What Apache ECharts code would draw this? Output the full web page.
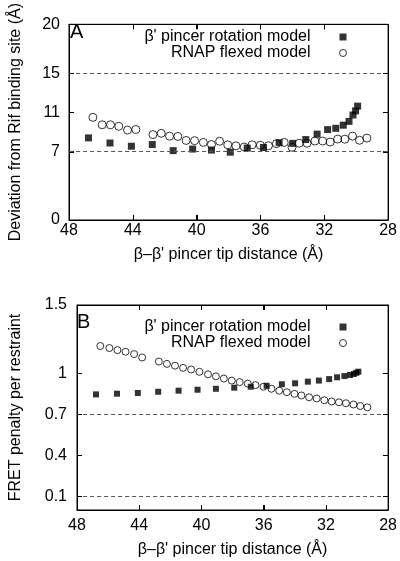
<!DOCTYPE html>
<html><head><meta charset="utf-8">
<script src="https://cdn.jsdelivr.net/npm/echarts@6/dist/echarts.min.js"></script>
<style>html,body{margin:0;padding:0;background:#fff}#c{width:400px;height:561px}</style>
</head><body><div id="c"></div>
<script>
// ---- data ----
const sqX = [46.78, 45.43, 44.09, 42.78, 41.47, 40.25, 39.07, 37.89, 36.83, 35.81, 34.83, 33.98, 33.16, 32.45, 31.79, 31.28, 30.81, 30.45, 30.20, 30.04, 29.91];
const sqA = [8.39, 7.87, 7.54, 7.71, 7.09, 7.25, 7.15, 6.93, 7.35, 7.41, 7.90, 7.83, 8.22, 8.78, 9.24, 9.37, 9.69, 10.08, 10.73, 11.15, 11.64];
const sqB = [0.846, 0.851, 0.856, 0.865, 0.873, 0.880, 0.887, 0.895, 0.902, 0.909, 0.920, 0.927, 0.939, 0.947, 0.958, 0.971, 0.980, 0.988, 0.995, 1.004, 1.012];
const ciX = [46.50, 45.92, 45.40, 44.88, 44.33, 43.81, 42.74, 42.22, 41.70, 41.18, 40.66, 40.13, 39.58, 39.07, 38.56, 38.05, 37.54, 37.02, 36.52, 36.01, 35.50, 35.00, 34.51, 34.02, 33.57, 33.08, 32.59, 32.10, 31.63, 31.16, 30.71, 30.23, 29.79, 29.33];
const ciA = [10.49, 9.73, 9.73, 9.58, 9.19, 9.25, 8.73, 8.86, 8.57, 8.54, 8.13, 8.11, 7.93, 7.71, 8.05, 7.68, 7.58, 7.46, 7.69, 7.64, 7.59, 7.80, 7.93, 7.43, 7.85, 7.85, 8.07, 8.07, 7.97, 8.27, 8.26, 8.57, 8.15, 8.37];
const ciB = [1.200, 1.185, 1.170, 1.158, 1.141, 1.116, 1.086, 1.069, 1.056, 1.040, 1.028, 1.011, 0.993, 0.978, 0.962, 0.947, 0.936, 0.925, 0.914, 0.902, 0.887, 0.873, 0.862, 0.850, 0.838, 0.825, 0.816, 0.803, 0.794, 0.788, 0.781, 0.772, 0.761, 0.751];
const ticksA = [0, 7, 11, 15, 20];
const ticksB = [0, 0.1, 0.4, 0.7, 1, 1.5];
const ticksX = [44, 40, 36, 32];
const dashA = [7, 15];
const dashB = [0.1, 0.7];
const nameSq = "β' pincer rotation model";
const nameCi = "RNAP flexed model";
const xTitle = "β–β' pincer tip distance (Å)";
const yTitleA = "Deviation from Rif binding site (Å)";
const yTitleB = "FRET penalty per restraint";

const FF = '"Liberation Sans", Arial, Helvetica, sans-serif';
const zip = (xs, ys) => xs.map((x, i) => [x, ys[i]]);
const chart = echarts.init(document.getElementById('c'));
const AL = () => ({show: true, onZero: false, lineStyle: {color: '#000', width: 1, opacity: 1}});
const TK = (cv) => {
  const t = {show: true, inside: true, length: 5, lineStyle: {color: '#000', width: 1, opacity: 1}};
  if (cv) t.customValues = cv;
  return t;
};

function xAxes(gi, gap, margin) {
  return [
    {gridIndex: gi, type: 'value', min: 28, max: 48, interval: 4, inverse: true, position: 'bottom',
     name: xTitle, nameLocation: 'middle', nameGap: gap,
     nameTextStyle: {fontSize: 16, color: '#000', fontFamily: FF},
     axisLine: AL(), axisTick: TK(),
     axisLabel: {fontSize: 16, color: '#000', fontFamily: FF, margin: margin},
     splitLine: {show: false}},
    {gridIndex: gi, type: 'value', min: 28, max: 48, interval: 4, inverse: true, position: 'top',
     axisLine: AL(), axisTick: TK(),
     axisLabel: {show: false}, splitLine: {show: false}}
  ];
}
function yAxes(gi, max, ticks, title, gap, labelExtra) {
  return [
    {gridIndex: gi, type: 'value', min: 0, max: max, position: 'left',
     name: title, nameLocation: 'middle', nameGap: gap,
     nameTextStyle: {fontSize: 16, color: '#000', fontFamily: FF},
     axisLine: AL(), axisTick: TK(ticks),
     axisLabel: Object.assign({fontSize: 16, color: '#000', fontFamily: FF, margin: 9, customValues: ticks}, labelExtra || {}),
     splitLine: {show: false}},
    {gridIndex: gi, type: 'value', min: 0, max: max, position: 'right',
     axisLine: AL(), axisTick: TK(ticks),
     axisLabel: {show: false}, splitLine: {show: false}}
  ];
}
function dashLines(vals) {
  return {silent: true, symbol: ['none', 'none'], label: {show: false},
    lineStyle: {color: '#555', type: [4, 3], width: 1},
    data: vals.map(v => ({yAxis: v}))};
}
function legend(top) {
  return {top: top, right: 48, orient: 'vertical', align: 'right', itemWidth: 7, itemHeight: 7, itemGap: 0,
    selectedMode: false,
    textStyle: {fontSize: 16, color: '#000', fontFamily: FF, lineHeight: 14.3, padding: [0, 24, 0, 0]},
    data: [{name: nameSq, icon: 'rect', itemStyle: {color: '#000'}},
           {name: nameCi, icon: 'circle', itemStyle: {color: 'rgba(0,0,0,0)', borderColor: '#000', borderWidth: 1}}]};
}
const circStyle = {color: 'rgba(0,0,0,0)', borderColor: '#000', borderWidth: 1};
const tickLine = (x1, y1, x2, y2) => ({type: 'line', shape: {x1, y1, x2, y2}, style: {stroke: '#000', lineWidth: 1}});

// inward tick marks on all four sides, positioned through the axes' own scales
function tickSeries(xi, yi, yTicks, yMax) {
  const yMid = yMax / 2;
  return [
    {type: 'custom', xAxisIndex: xi, yAxisIndex: yi, silent: true, z: 5, clip: false,
     dimensions: ['t'], encode: {y: 't'},
     data: yTicks.map(v => [v]),
     renderItem: (params, api) => {
       const cs = params.coordSys;
       const y = Math.round(api.coord([38, api.value('t')])[1]) + 0.5;
       return {type: 'group', children: [
         tickLine(cs.x, y, cs.x + 5, y),
         tickLine(cs.x + cs.width - 5, y, cs.x + cs.width, y)]};
     }},
    {type: 'custom', xAxisIndex: xi, yAxisIndex: yi, silent: true, z: 5, clip: false,
     dimensions: ['t'], encode: {x: 't'},
     data: ticksX.map(v => [v]),
     renderItem: (params, api) => {
       const cs = params.coordSys;
       const x = Math.round(api.coord([api.value('t'), yMid])[0]) + 0.5;
       return {type: 'group', children: [
         tickLine(x, cs.y + cs.height, x, cs.y + cs.height - 5),
         tickLine(x, cs.y, x, cs.y + 5)]};
     }}
  ];
}

chart.setOption({
  animation: false,
  grid: [
    {left: 64, top: 15, width: 327, height: 205, show: true, borderColor: '#000', borderWidth: 1, backgroundColor: 'rgba(0,0,0,0)'},
    {left: 73, top: 305, width: 318, height: 205, show: true, borderColor: '#000', borderWidth: 1, backgroundColor: 'rgba(0,0,0,0)'}
  ],
  legend: [legend(24), legend(314)],
  xAxis: [...xAxes(0, 27, 3), ...xAxes(1, 32, 8)],
  yAxis: [...yAxes(0, 20, ticksA, yTitleA, 45),
          ...yAxes(1, 1.5, ticksB, yTitleB, 53, {
            margin: 10,
            formatter: v => v === 0 ? '{z|0}' : String(v),
            rich: {z: {fontSize: 16, fontFamily: FF, color: '#000', padding: [0, 0, 10, 0]}}
          })],
  graphic: [
    {type: 'text', left: 70, top: 22, style: {text: 'A', fontSize: 20, fontFamily: FF, fill: '#000'}},
    {type: 'text', left: 77, top: 312, style: {text: 'B', fontSize: 20, fontFamily: FF, fill: '#000'}}
  ],
  series: [
    {name: nameSq, type: 'scatter', xAxisIndex: 0, yAxisIndex: 0, symbol: 'rect', symbolSize: 7,
     itemStyle: {color: '#000'}, data: zip(sqX, sqA), markLine: dashLines(dashA), z: 2},
    {name: nameCi, type: 'scatter', xAxisIndex: 0, yAxisIndex: 0, symbol: 'circle', symbolSize: 8,
     itemStyle: circStyle, data: zip(ciX, ciA), z: 3},
    {name: nameSq, type: 'scatter', xAxisIndex: 2, yAxisIndex: 2, symbol: 'rect', symbolSize: 6,
     itemStyle: {color: '#000'}, data: zip(sqX, sqB), markLine: dashLines(dashB), z: 2},
    {name: nameCi, type: 'scatter', xAxisIndex: 2, yAxisIndex: 2, symbol: 'circle', symbolSize: 7,
     itemStyle: circStyle, data: zip(ciX, ciB), z: 3},
    ...tickSeries(0, 0, ticksA.filter(v => v > 0 && v < 20), 20),
    ...tickSeries(2, 2, ticksB.filter(v => v > 0 && v < 1.5), 1.5)
  ]
});
</script></body></html>
